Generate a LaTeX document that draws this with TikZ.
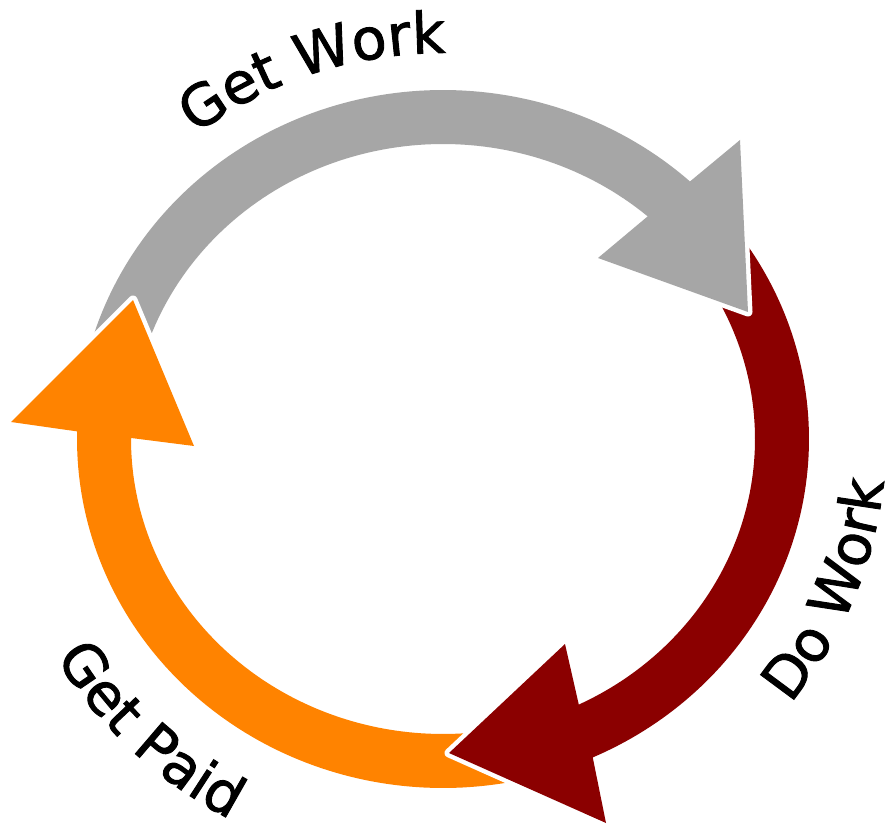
\documentclass[tikz,border=0pt]{standalone}
\usepackage{fontspec}
\newfontfamily\lblfam{DejaVu Sans}[FakeBold=1.6]
\usetikzlibrary{decorations.text}
\definecolor{arrgray}{HTML}{A6A6A6}
\definecolor{arrred}{HTML}{8B0000}
\definecolor{arrorange}{HTML}{FF8300}
\newcommand{\lblfont}{\lblfam\fontsize{57}{60}\selectfont}
% #1 tail angle, #2 base angle (outer), #3 base angle (inner), #4 outer wing, #5 tip, #6 inner wing
\newcommand{\ringarrow}[6]{%
  plot[domain=0:1, samples=90, variable=\s]
    ({443+366*cos((#1)+((#2)-(#1))*\s)},{439-349*sin((#1)+((#2)-(#1))*\s)})
  -- #4 -- #5 -- #6 --
  plot[domain=0:1, samples=90, variable=\s]
    ({443+312*cos((#3)+((#1)-(#3))*\s)},{439-295*sin((#3)+((#1)-(#3))*\s)})
  -- cycle}
\newcommand{\orangepath}{\ringarrow{-75}{-181.3}{-180.2}{(11,422)}{(133,300)}{(194,446)}}
\newcommand{\redpath}{\ringarrow{36}{-65.9}{-64.2}{(606,823)}{(449,753)}{(565,644)}}
\newcommand{\graypath}{\ringarrow{168}{47.5}{49}{(740,140)}{(748,312)}{(598,258)}}
\begin{document}
\begin{tikzpicture}[x=1pt,y=-1pt,
  gapline/.style={draw=white, line width=9pt, line join=round},
  lbl/.style={decorate, decoration={text along path, text align=center, text={|\lblfont|#1}}}]
\useasboundingbox (0,0) rectangle (892,829);
% arrows, layered so each head lies over the next tail
\draw[gapline] \orangepath;
\fill[arrorange] \orangepath;
\draw[gapline] \redpath;
\fill[arrred] \redpath;
\draw[gapline] \graypath;
\fill[arrgray] \graypath;
\begin{scope}
  \clip (-5,262) rectangle (240,472);
  \draw[gapline] \orangepath;
  \fill[arrorange] \orangepath;
\end{scope}
% labels
\path[lbl={Get Work}] plot[domain=0:1, samples=80, variable=\s]
  ({443+402*cos(151-84*\s)},{439-386*sin(151-84*\s)});
\path[lbl={Do Work}] plot[domain=0:1, samples=80, variable=\s]
  ({443+443*cos(-44+44*\s)},{439-426*sin(-44+44*\s)});
\path[lbl={Get Paid}] plot[domain=0:1, samples=80, variable=\s]
  ({443+449*cos(204+44*\s)},{439-432*sin(204+44*\s)});
\end{tikzpicture}
\end{document}
